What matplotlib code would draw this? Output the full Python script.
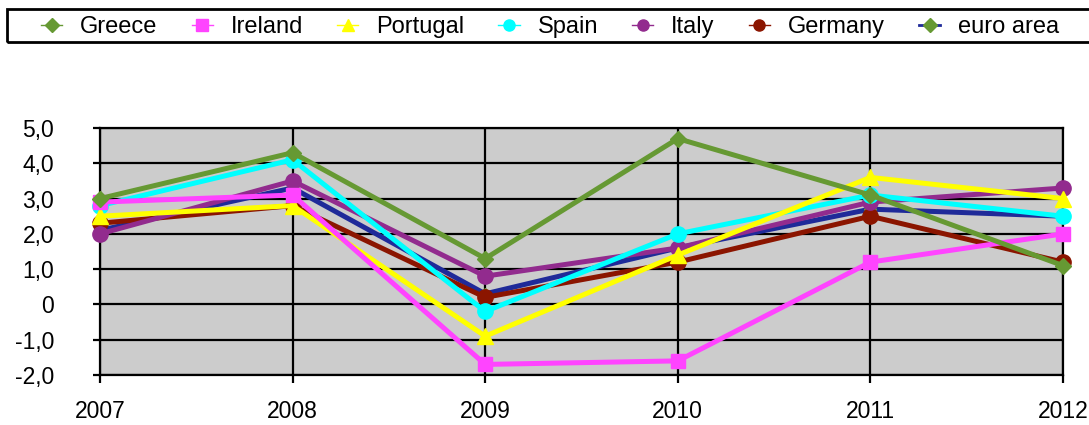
import matplotlib
matplotlib.use('Agg')
import matplotlib.pyplot as plt
from matplotlib.lines import Line2D
from matplotlib.patches import Rectangle

plt.rcParams['font.family'] = ['Liberation Sans', 'DejaVu Sans']

years = [2007, 2008, 2009, 2010, 2011, 2012]
greece = [3.0, 4.3, 1.3, 4.7, 3.1, 1.1]
ireland = [2.9, 3.1, -1.7, -1.6, 1.2, 2.0]
portugal = [2.5, 2.8, -0.9, 1.4, 3.6, 3.0]
spain = [2.8, 4.1, -0.2, 2.0, 3.1, 2.5]
italy = [2.0, 3.5, 0.8, 1.6, 2.9, 3.3]
germany = [2.3, 2.8, 0.2, 1.2, 2.5, 1.2]
euro_area = [2.1, 3.3, 0.3, 1.6, 2.7, 2.5]

yticks = [5, 4, 3, 2, 1, 0, -1, -2]
ytick_labels = ['5,0', '4,0', '3,0', '2,0', '1,0', '0', '-1,0', '-2,0']

# name, values, line colour, marker, marker colour, marker size
series = [
    ('Greece', greece, '#669933', 'D', '#669933', 8),
    ('Ireland', ireland, '#ff44ff', 's', '#ff44ff', 10),
    ('Portugal', portugal, '#ffff00', '^', '#ffff00', 11),
    ('Spain', spain, '#00ffff', 'o', '#00ffff', 11),
    ('Italy', italy, '#922b8e', 'o', '#922b8e', 11),
    ('Germany', germany, '#8b1500', 'o', '#8b1500', 11),
    ('euro area', euro_area, '#1f2a99', 'D', '#669933', 6),
]

W, H = 1089, 425
fig = plt.figure(figsize=(W / 100, H / 100), dpi=100)
ax = fig.add_axes([100 / W, 1 - 375 / H, 963 / W, 247 / H])
ax.set_facecolor('#cccccc')

n = len(series)
for i, (name, vals, col, mk, mcol, ms) in enumerate(series):
    ax.plot(years, vals, color=col, lw=3.6, marker=mk, markersize=ms,
            markerfacecolor=mcol, markeredgecolor=mcol, zorder=10 + n - i,
            clip_on=False)

ax.set_xlim(2007, 2012)
ax.set_ylim(-2, 5)
ax.set_xticks(years)
ax.set_xticklabels([str(y) for y in years])
ax.set_yticks(yticks)
ax.set_yticklabels(ytick_labels)
ax.grid(True, color='black', lw=1.6, zorder=1)
ax.set_axisbelow(True)
for s in ax.spines.values():
    s.set_linewidth(1.6)
    s.set_color('black')
ax.tick_params(axis='x', direction='out', length=6, width=1.6, pad=12, labelsize=16.5)
ax.tick_params(axis='y', direction='out', length=5, width=1.6, pad=28, labelsize=16.5)

# legend box across the top
fig.patches.append(Rectangle((7 / W, 1 - 42 / H), (W + 10) / W, 33 / H,
                             transform=fig.transFigure, fill=False,
                             edgecolor='black', lw=2.0))
handles = []
for name, vals, col, mk, mcol, ms in series:
    lc = col if name == 'euro area' else mcol
    lw = 2 if name == 'euro area' else 1
    handles.append(Line2D([0], [0], color=lc, lw=lw, marker=mk,
                          markersize=8 if mk != 'D' else 7,
                          markerfacecolor=mcol, markeredgecolor=mcol))
fig.legend(handles, [s[0] for s in series], ncol=7, frameon=False,
           loc='center left', bbox_to_anchor=(41 / W, 1 - 27 / H),
           fontsize=17, handlelength=0.9, handletextpad=0.75,
           columnspacing=1.45, borderpad=0, borderaxespad=0)

fig.savefig('out.png', dpi=100)
